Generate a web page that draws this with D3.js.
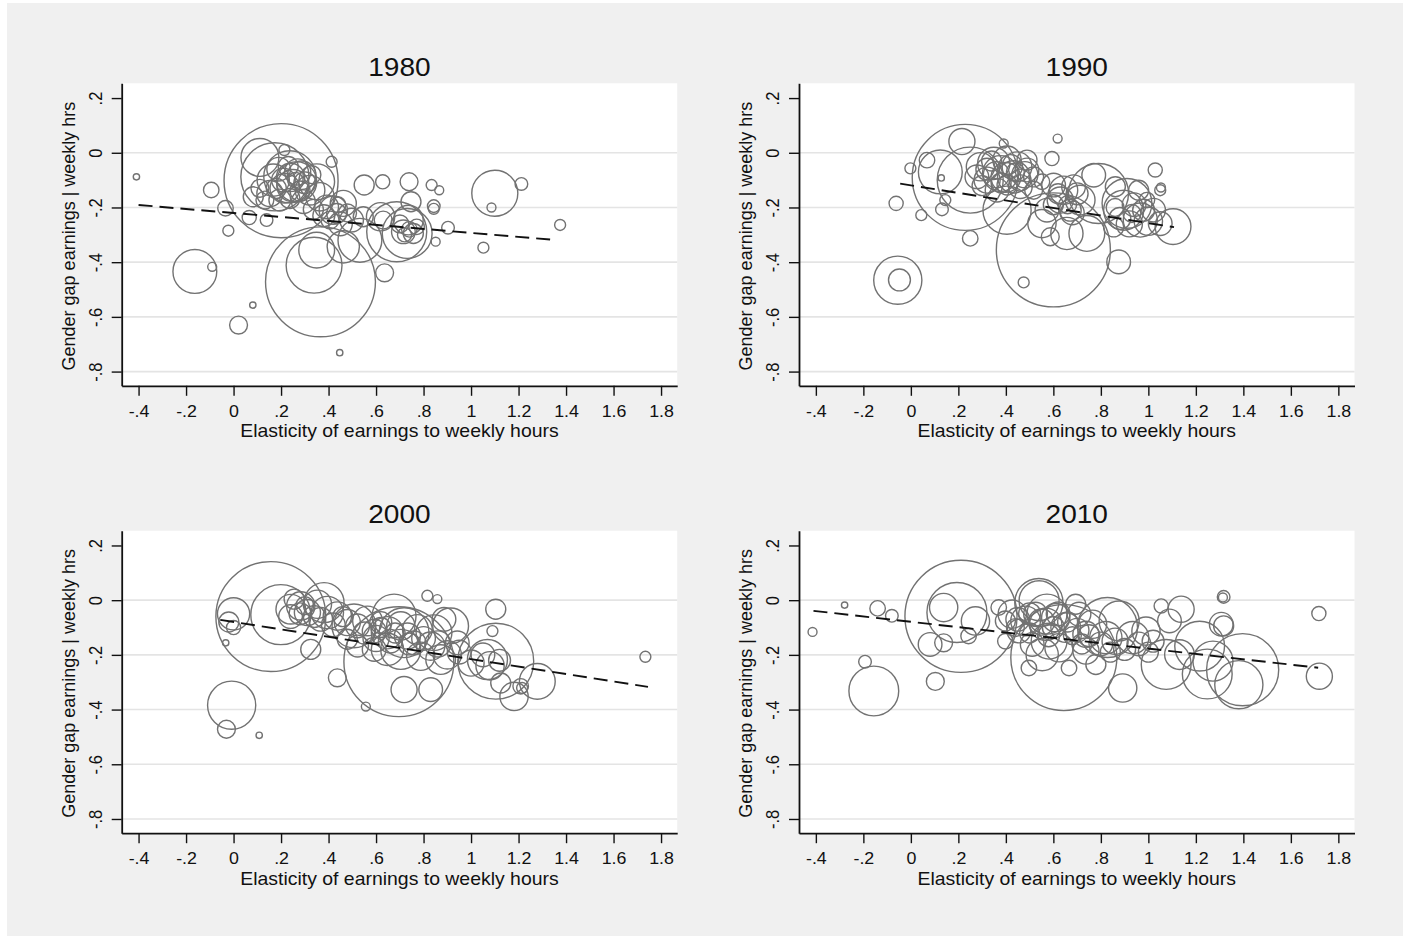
<!DOCTYPE html>
<html><head><meta charset="utf-8">
<script src="https://cdn.jsdelivr.net/npm/d3@7"></script>
<style>
body{margin:0;background:#fff;}
svg{display:block;font-family:"Liberation Sans",Arial,Helvetica,sans-serif;}
</style></head><body>
<svg id="chart" width="1411" height="936"></svg>
<script>
// ---- data: [elasticity, gender gap, weight] ----
const years = ["1980", "1990", "2000", "2010"];

const data1980 = [
  [-0.409,-0.088,1],[-0.094,-0.136,6],[-0.034,-0.203,6],[-0.022,-0.285,3],[0.081,-0.557,1],
  [0.021,-0.63,8],[0.447,-0.731,1],[1.052,-0.347,3],[1.375,-0.264,3],[0.903,-0.274,4],
  [0.851,-0.325,2],[0.834,-0.118,3],[0.866,-0.137,2],[0.843,-0.195,4],[0.843,-0.205,3],
  [0.636,-0.439,8],[0.739,-0.106,8],[0.628,-0.106,5],[0.55,-0.118,10],[0.413,-0.033,3],
  [0.214,0.01,3],[-0.163,-0.434,48],[-0.09,-0.417,2],[1.10,-0.148,53],[1.086,-0.2,2],
  [1.212,-0.114,4],[0.2,-0.102,325],[0.366,-0.472,302],[0.111,-0.017,36],[0.174,-0.088,116],
  [0.339,-0.411,78],[0.35,-0.356,32],[0.462,-0.344,26],[0.532,-0.32,48],[0.731,-0.295,62],
  [0.687,-0.289,90],[0.619,-0.234,20],[0.747,-0.179,10],[0.736,-0.246,22],[0.715,-0.289,14],
  [0.757,-0.295,10],[0.771,-0.271,6],[0.63,-0.246,8],[0.546,-0.234,10],[0.066,-0.237,5],
  [0.139,-0.246,4],[0.153,-0.149,17],[0.111,-0.13,8],[0.083,-0.161,10],[0.167,-0.1,26],
  [0.237,-0.088,68],[0.266,-0.106,40],[0.216,-0.13,22],[0.287,-0.082,20],[0.322,-0.137,22],
  [0.195,-0.173,12],[0.132,-0.173,8],[0.237,-0.167,10],[0.294,-0.179,14],[0.35,-0.106,32],
  [0.392,-0.198,14],[0.434,-0.222,10],[0.364,-0.161,20],[0.462,-0.185,17],[0.406,-0.246,8],
  [0.336,-0.207,10],[0.497,-0.246,14],
  [0.19,-0.06,14],[0.23,-0.05,10],[0.27,-0.07,17],[0.30,-0.11,12],[0.25,-0.12,26],
  [0.21,-0.10,14],[0.28,-0.14,10],[0.33,-0.08,8],[0.18,-0.13,10],[0.24,-0.09,20],
  [0.26,-0.10,6],[0.42,-0.21,20],[0.45,-0.26,14],[0.38,-0.23,12],[0.48,-0.22,8],
  [0.44,-0.19,6],[0.70,-0.26,8],[0.74,-0.28,6],[0.72,-0.30,5]
];

const data1990 = [
  [0.229,-0.09,281],[0.60,-0.355,325],[-0.055,-0.466,58],[-0.048,-0.465,12],[-0.062,-0.185,5],
  [0.044,-0.228,3],[0.25,-0.313,6],[0.475,-0.474,3],[0.618,0.052,2],[1.029,-0.063,5],
  [0.875,-0.399,14],[1.104,-0.27,32],[1.053,-0.127,2],[0.215,0.041,17],[0.124,-0.07,48],
  [0.128,-0.092,1],[0.068,-0.027,6],[-0.002,-0.057,3],[0.391,0.034,2],[0.594,-0.021,5],
  [0.25,-0.1,109],[0.131,-0.207,4],[0.145,-0.173,3],[0.293,-0.051,20],[0.349,-0.039,26],
  [0.405,-0.027,20],[0.447,-0.051,22],[0.377,-0.076,32],[0.433,-0.088,26],[0.489,-0.063,14],
  [0.321,-0.1,17],[0.278,-0.088,14],[0.461,-0.124,14],[0.517,-0.088,10],[0.363,-0.137,14],
  [0.405,-0.118,10],[0.489,-0.027,10],[0.517,-0.137,8],[0.552,-0.106,6],[0.405,-0.21,58],
  [0.601,-0.118,14],[0.643,-0.137,20],[0.685,-0.124,14],[0.629,-0.173,17],[0.713,-0.173,22],
  [0.671,-0.21,12],[0.573,-0.21,14],[0.552,-0.259,20],[0.587,-0.307,8],[0.657,-0.295,26],
  [0.741,-0.295,32],[0.79,-0.149,90],[0.77,-0.082,14],[0.861,-0.124,10],[0.959,-0.137,10],
  [0.896,-0.21,40],[0.966,-0.246,29],[0.931,-0.222,8],[0.854,-0.271,10],[1.022,-0.21,14],
  [1.05,-0.137,3],[0.994,-0.173,6],[1.05,-0.259,14],[0.91,-0.185,62],
  [0.32,-0.06,12],[0.36,-0.08,17],[0.42,-0.05,14],[0.46,-0.10,12],[0.38,-0.11,10],
  [0.44,-0.07,8],[0.34,-0.03,10],[0.48,-0.08,17],[0.40,-0.09,22],[0.30,-0.12,10],
  [0.62,-0.15,10],[0.66,-0.19,8],[0.70,-0.15,12],[0.60,-0.19,10],[0.68,-0.22,14],
  [0.88,-0.24,12],[0.92,-0.26,17],[0.98,-0.21,12],[0.86,-0.20,8],[1.00,-0.25,20],
  [0.94,-0.19,14]
];

const data2000 = [
  [0.157,-0.06,302],[0.199,-0.053,90],[-0.008,-0.384,58],[-0.03,-0.472,8],[0.108,-0.494,1],
  [0.0,-0.05,26],[-0.02,-0.08,10],[0.0,-0.1,5],[-0.033,-0.156,1],[0.437,-0.284,8],
  [0.325,-0.18,10],[0.557,-0.389,2],[0.696,-0.225,302],[0.718,-0.327,17],[0.83,-0.327,14],
  [0.816,0.016,3],[0.858,0.004,2],[1.104,-0.033,10],[1.09,-0.113,3],[1.104,-0.223,144],
  [1.069,-0.217,40],[1.181,-0.352,20],[1.279,-0.297,32],[1.209,-0.315,6],[1.125,-0.303,10],
  [1.215,-0.321,3],[1.734,-0.207,3],[0.872,-0.217,22],[0.914,-0.094,32],[0.942,-0.156,14],
  [0.241,-0.033,22],[0.283,-0.021,20],[0.311,-0.045,17],[0.255,0.004,10],[0.353,-0.015,20],
  [0.395,-0.045,26],[0.367,-0.07,14],[0.437,-0.058,20],[0.479,-0.082,17],[0.522,-0.094,14],
  [0.564,-0.076,22],[0.592,-0.113,14],[0.62,-0.082,12],[0.648,-0.119,26],[0.704,-0.094,20],
  [0.732,-0.131,17],[0.774,-0.107,22],[0.76,-0.156,14],[0.844,-0.119,32],[0.83,-0.168,20],
  [0.648,-0.18,26],[0.592,-0.18,14],[0.522,-0.168,12],[0.479,-0.143,10],[0.704,-0.18,40],
  [0.788,-0.205,20],[0.886,-0.07,14],[0.676,-0.058,48],[0.718,-0.119,62],[0.507,-0.094,48],
  [0.381,-0.009,40],
  [0.24,-0.06,14],[0.28,-0.05,12],[0.30,-0.02,8],[0.34,-0.06,12],[0.42,-0.09,14],
  [0.46,-0.06,10],[0.55,-0.12,12],[0.60,-0.14,17],[0.66,-0.15,14],[0.62,-0.10,10],
  [0.68,-0.12,10],[0.74,-0.16,12],[0.80,-0.14,14],[0.86,-0.16,17],[0.90,-0.20,20],
  [0.95,-0.19,14],[1.05,-0.20,14],[1.08,-0.24,20],[1.12,-0.22,12],[1.00,-0.23,17]
];

const data2010 = [
  [0.211,-0.059,314],[0.194,-0.045,90],[0.138,-0.027,20],[0.272,-0.076,20],[0.243,-0.131,6],
  [0.081,-0.162,14],[0.138,-0.156,8],[0.103,-0.297,8],[-0.14,-0.03,6],[-0.08,-0.057,4],
  [-0.279,-0.018,1],[-0.414,-0.116,2],[-0.193,-0.225,4],[-0.156,-0.332,62],[1.317,0.012,4],
  [1.718,-0.049,5],[1.72,-0.278,17],[1.397,-0.254,130],[1.381,-0.309,58],[1.317,-0.094,10],
  [1.248,-0.27,62],[0.644,-0.21,281],[0.539,-0.009,58],[0.573,-0.051,40],[0.828,-0.1,90],
  [1.054,-0.021,5],[1.138,-0.033,17],[1.307,-0.088,14],[1.314,0.01,2],[1.272,-0.223,40],
  [1.216,-0.168,62],[1.131,-0.199,22],[1.075,-0.235,62],[0.892,-0.321,20],[1.089,-0.076,14],
  [0.99,-0.113,20],[0.934,-0.137,26],[0.877,-0.076,40],[0.821,-0.137,26],[0.765,-0.088,20],
  [0.708,-0.051,14],[0.737,-0.186,17],[0.779,-0.235,10],[0.666,-0.248,6],[0.497,-0.248,6],
  [0.54,-0.002,40],[0.427,-0.051,20],[0.483,-0.076,22],[0.525,-0.051,14],[0.568,-0.088,26],
  [0.61,-0.064,20],[0.652,-0.1,22],[0.455,-0.113,14],[0.398,-0.076,10],[0.37,-0.027,6],
  [0.582,-0.15,32],[0.624,-0.174,20],[0.398,-0.15,6],[0.694,-0.015,10],[0.511,-0.162,14],
  [0.553,-0.199,26],[0.737,-0.125,17],
  [0.45,-0.07,14],[0.50,-0.05,12],[0.55,-0.08,17],[0.60,-0.10,12],[0.62,-0.05,14],
  [0.66,-0.08,10],[0.70,-0.11,14],[0.58,-0.13,12],[0.50,-0.12,10],[0.44,-0.10,8],
  [0.75,-0.13,12],[0.80,-0.16,14],[0.86,-0.15,17],[0.90,-0.18,12],[0.96,-0.16,14],
  [1.00,-0.19,10],[1.02,-0.15,12],[0.84,-0.19,10],[0.72,-0.16,10],[0.68,-0.13,8]
];

// linear fit per year: intercept, slope, x range
const fitIntercept = [-0.2201, -0.1192, -0.0796, -0.0791];
const fitSlope     = [-0.0728, -0.1379, -0.1360, -0.0979];
const fitXMin      = [-0.40, -0.045, -0.056, -0.41];
const fitXMax      = [1.345, 1.108, 1.745, 1.715];

const xTicks = [-0.4,-0.2,0,0.2,0.4,0.6,0.8,1,1.2,1.4,1.6,1.8];
const xTickLabels = ["-.4","-.2","0",".2",".4",".6",".8","1","1.2","1.4","1.6","1.8"];
const yTicks = [0.2,0,-0.2,-0.4,-0.6,-0.8];
const yTickLabels = [".2","0","-.2","-.4","-.6","-.8"];
const gridTicks = [0,-0.2,-0.4,-0.6,-0.8];

const xTitle = "Elasticity of earnings to weekly hours";
const yTitle = "Gender gap earnings | weekly hrs";

// ---- drawing ----
const panels = [data1980, data1990, data2000, data2010];
const svg = d3.select("#chart");
svg.append("rect").attr("x",7).attr("y",3).attr("width",1396).attr("height",933).attr("fill","#f0f0f0");

const W = 555.5, H = 302.5;
const origins = [[121.7,83.3],[799,83.3],[121.7,530.7],[799,530.7]];
const x = d3.scaleLinear().domain([-0.471,1.868]).range([0,W]);
const y = d3.scaleLinear().domain([-0.852,0.254]).range([H,0]);
const r = d3.scaleSqrt().domain([0,360]).range([0,60]);
const ink = "#111";
const SX = 1.08; // horizontal text stretch seen in the reference

panels.forEach((pd,i)=>{
  const g = svg.append("g").attr("transform",`translate(${origins[i][0]},${origins[i][1]})`);
  g.append("rect").attr("width",W).attr("height",H).attr("fill","#fff");

  g.selectAll("line.grid").data(gridTicks).join("line").attr("class","grid")
    .attr("x1",0).attr("x2",W).attr("y1",d=>y(d)).attr("y2",d=>y(d))
    .attr("stroke","#e4e4e4").attr("stroke-width",1.6);

  g.append("g").selectAll("circle").data(pd).join("circle")
    .attr("cx",d=>x(d[0])).attr("cy",d=>y(d[1])).attr("r",d=>r(d[2]))
    .attr("fill","none").attr("stroke","#727272").attr("stroke-width",1.4);

  const fx = [fitXMin[i], fitXMax[i]];
  g.append("path")
    .datum(fx.map(v=>[v, fitIntercept[i] + fitSlope[i]*v]))
    .attr("d", d3.line().x(d=>x(d[0])).y(d=>y(d[1])))
    .attr("fill","none").attr("stroke",ink).attr("stroke-width",1.9)
    .attr("stroke-dasharray","14,7");

  const xa = g.append("g").attr("transform",`translate(0,${H})`)
    .call(d3.axisBottom(x).tickValues(xTicks).tickFormat((d,j)=>xTickLabels[j])
      .tickSizeInner(10).tickSizeOuter(0).tickPadding(9));
  const ya = g.append("g")
    .call(d3.axisLeft(y).tickValues(yTicks).tickFormat((d,j)=>yTickLabels[j])
      .tickSizeInner(10).tickSizeOuter(0).tickPadding(9));
  [xa,ya].forEach(a=>{
    a.attr("color",ink).attr("font-family",null).attr("font-size",null);
    a.select(".domain").attr("stroke-width",1.8);
    a.selectAll(".tick line").attr("stroke-width",1.4);
    a.selectAll("text").attr("font-size",16.5).attr("fill",ink);
  });
  xa.selectAll(".tick text").attr("transform",`scale(${SX},1)`);
  ya.selectAll(".tick text").attr("x",null).attr("dy",null).attr("y",null)
    .attr("text-anchor","middle").attr("transform",`translate(-20,0) rotate(-90) scale(1,${SX})`);

  g.append("text").attr("transform",`translate(${W/2},-7.3) scale(${SX},1)`).attr("text-anchor","middle")
    .attr("font-size",26).attr("fill",ink).text(years[i]);
  g.append("text").attr("transform",`translate(${W/2},${H+51.6}) scale(${SX},1)`).attr("text-anchor","middle")
    .attr("font-size",18).attr("fill",ink).text(xTitle);
  g.append("text").attr("transform",`translate(-46.7,${H/2+1.5}) rotate(-90)`)
    .attr("text-anchor","middle").attr("font-size",18).attr("fill",ink).text(yTitle);
});
</script>
</body></html>
